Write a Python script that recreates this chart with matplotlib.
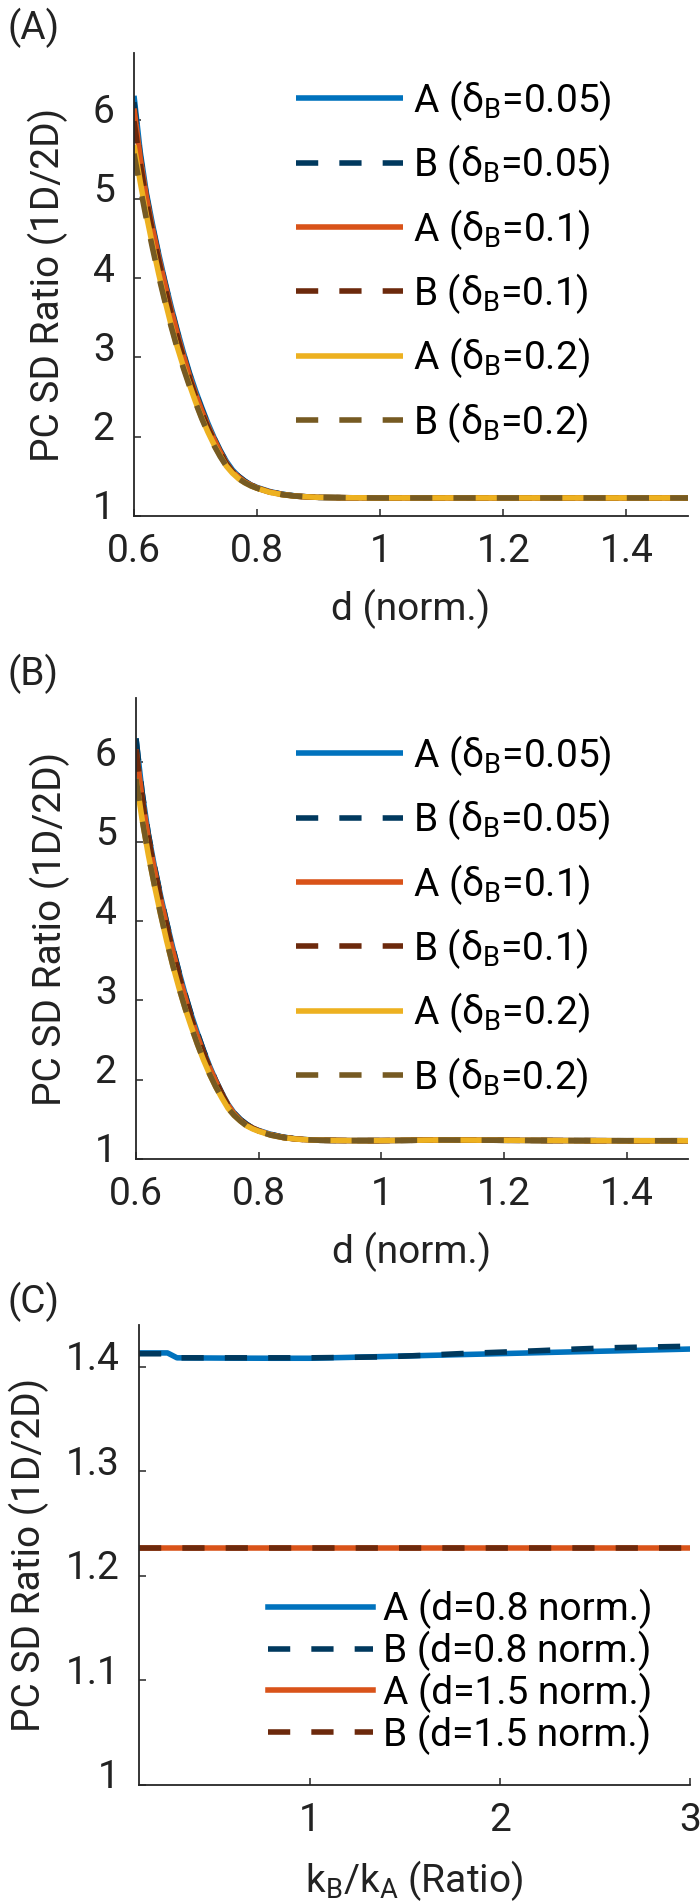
import matplotlib
matplotlib.use("Agg")
import matplotlib.pyplot as plt
import matplotlib.transforms as mtransforms

plt.rcParams['font.family'] = ['Roboto', 'DejaVu Sans']
plt.rcParams['mathtext.fontset'] = 'custom'
plt.rcParams['mathtext.rm'] = 'Roboto'

# ---- data ----
d = [0.60, 0.61, 0.62, 0.63, 0.64, 0.65, 0.66, 0.67, 0.68, 0.69, 0.70, 0.71,
     0.72, 0.73, 0.74, 0.75, 0.76, 0.77, 0.78, 0.79, 0.80, 0.82, 0.84, 0.86,
     0.88, 0.90, 0.95, 1.0, 1.1, 1.2, 1.3, 1.4, 1.5]

# panel A
a_A005 = [6.30, 5.60, 5.08, 4.68, 4.31, 3.97, 3.65, 3.35, 3.07, 2.81, 2.58, 2.37,
          2.17, 1.99, 1.83, 1.69, 1.58, 1.50, 1.44, 1.39, 1.36, 1.31, 1.275, 1.255,
          1.243, 1.235, 1.23, 1.228, 1.228, 1.228, 1.228, 1.228, 1.228]
a_B005 = [6.22, 5.55, 5.05, 4.65, 4.29, 3.95, 3.63, 3.33, 3.05, 2.79, 2.56, 2.35,
          2.15, 1.98, 1.82, 1.68, 1.57, 1.50, 1.44, 1.39, 1.36, 1.31, 1.275, 1.255,
          1.243, 1.235, 1.23, 1.228, 1.228, 1.228, 1.228, 1.228, 1.228]
a_A01 = [6.14, 5.52, 5.03, 4.63, 4.27, 3.93, 3.61, 3.31, 3.03, 2.77, 2.54, 2.33,
         2.14, 1.97, 1.81, 1.67, 1.56, 1.49, 1.43, 1.39, 1.355, 1.305, 1.272, 1.253,
         1.242, 1.235, 1.23, 1.228, 1.228, 1.228, 1.228, 1.228, 1.228]
a_B01 = [5.98, 5.45, 4.98, 4.59, 4.23, 3.89, 3.57, 3.27, 3.00, 2.74, 2.51, 2.30,
         2.12, 1.95, 1.80, 1.66, 1.56, 1.49, 1.43, 1.385, 1.352, 1.303, 1.271, 1.252,
         1.242, 1.235, 1.23, 1.228, 1.228, 1.228, 1.228, 1.228, 1.228]
a_A02 = [5.68, 5.22, 4.80, 4.42, 4.06, 3.73, 3.42, 3.14, 2.89, 2.66, 2.44, 2.24,
         2.06, 1.90, 1.76, 1.63, 1.54, 1.47, 1.42, 1.38, 1.35, 1.30, 1.27, 1.252,
         1.242, 1.235, 1.23, 1.228, 1.228, 1.228, 1.228, 1.228, 1.228]
a_B02 = [5.57, 5.15, 4.75, 4.38, 4.03, 3.71, 3.40, 3.12, 2.87, 2.64, 2.43, 2.23,
         2.05, 1.89, 1.75, 1.63, 1.54, 1.47, 1.42, 1.38, 1.35, 1.30, 1.27, 1.252,
         1.242, 1.235, 1.23, 1.228, 1.228, 1.228, 1.228, 1.228, 1.228]

# panel B
b_A005 = [6.30, 5.62, 5.10, 4.69, 4.32, 3.98, 3.66, 3.36, 3.08, 2.82, 2.59, 2.37,
          2.17, 1.99, 1.83, 1.69, 1.58, 1.50, 1.44, 1.39, 1.36, 1.31, 1.275, 1.255,
          1.243, 1.236, 1.232, 1.232, 1.24, 1.236, 1.232, 1.23, 1.23]
b_B005 = b_A005
b_A01 = [6.16, 5.54, 5.05, 4.65, 4.28, 3.94, 3.62, 3.32, 3.04, 2.78, 2.55, 2.34,
         2.15, 1.98, 1.82, 1.68, 1.57, 1.49, 1.43, 1.39, 1.355, 1.305, 1.272, 1.253,
         1.242, 1.236, 1.232, 1.232, 1.24, 1.236, 1.232, 1.23, 1.23]
b_B01 = b_A01
b_A02 = [5.79, 5.28, 4.84, 4.45, 4.09, 3.75, 3.44, 3.16, 2.90, 2.67, 2.45, 2.25,
         2.07, 1.91, 1.77, 1.64, 1.55, 1.48, 1.42, 1.38, 1.35, 1.30, 1.27, 1.252,
         1.242, 1.236, 1.232, 1.232, 1.24, 1.236, 1.232, 1.23, 1.23]
b_B02 = b_A02

# panel C
k = [0.1, 0.2, 0.25, 0.3, 0.4, 0.6, 0.8, 1.0, 1.2, 1.4, 1.6, 1.8, 2.0, 2.2,
     2.4, 2.6, 2.8, 3.0]
c_A08 = [1.4133, 1.4133, 1.4133, 1.4086, 1.4085, 1.4083, 1.4082, 1.4082, 1.4090,
         1.4099, 1.4108, 1.4117, 1.4126, 1.4135, 1.4144, 1.4152, 1.4161, 1.4170]
c_B08 = [1.4125, 1.4125, 1.4125, 1.4086, 1.4086, 1.4086, 1.4086, 1.4086, 1.4090,
         1.4096, 1.4110, 1.4127, 1.4140, 1.4154, 1.4170, 1.4183, 1.4190, 1.4197]
c_A15 = [1.2265] * len(k)
c_B15 = [1.2265] * len(k)

labels_ab = ['A (δ$_\\mathregular{B}$=0.05)', 'B (δ$_\\mathregular{B}$=0.05)',
             'A (δ$_\\mathregular{B}$=0.1)', 'B (δ$_\\mathregular{B}$=0.1)',
             'A (δ$_\\mathregular{B}$=0.2)', 'B (δ$_\\mathregular{B}$=0.2)']
labels_c = ['A (d=0.8 norm.)', 'B (d=0.8 norm.)', 'A (d=1.5 norm.)', 'B (d=1.5 norm.)']

blue, dblue = '#0072BD', '#00395E'
red, dred = '#D95319', '#6C290C'
yel, dyel = '#EDB120', '#765A22'
cols = [blue, dblue, red, dred, yel, dyel]

W, H = 700, 1904
FS = 28
LW = 4
DASH = (4, 3.8)
axcol = '#262626'

fig = plt.figure(figsize=(W / 100, H / 100), dpi=100)


def make_ax(left, right, top, bottom):
    ax = fig.add_axes([left / W, 1 - bottom / H, (right - left) / W, (bottom - top) / H])
    for s in ['top', 'right']:
        ax.spines[s].set_visible(False)
    for s in ['left', 'bottom']:
        ax.spines[s].set_color(axcol)
        ax.spines[s].set_linewidth(1.3)
    ax.tick_params(direction='in', length=5, width=1.1, colors=axcol,
                   labelsize=FS, labelcolor='#222222')
    ax.tick_params(axis='x', pad=12)
    ax.tick_params(axis='y', pad=14)
    return ax


def shift_ylabels(ax):
    off = mtransforms.ScaledTranslation(0, 11 / 100, fig.dpi_scale_trans)
    for lab in ax.get_yticklabels():
        lab.set_transform(lab.get_transform() + off)


def draw(ax, series, labels):
    for i, (y, lab) in enumerate(zip(series, labels)):
        if i % 2 == 0:
            ax.plot(d, y, color=cols[i], lw=LW, label=lab, solid_capstyle='butt')
        else:
            ax.plot(d, y, color=cols[i], lw=LW, ls=(0, DASH), label=lab, dash_capstyle='butt')


# ---- panel A ----
axA = make_ax(134, 688, 53, 516)
draw(axA, [a_A005, a_B005, a_A01, a_B01, a_A02, a_B02], labels_ab)
axA.set_xlim(0.6, 1.5)
axA.set_ylim(1, 6.84)
axA.set_xticks([0.6, 0.8, 1, 1.2, 1.4])
axA.set_xticklabels(['0.6', '0.8', '1', '1.2', '1.4'])
axA.set_yticks([1, 2, 3, 4, 5, 6])
axA.set_xlabel('d (norm.)', fontsize=FS, labelpad=14, color='#222222')
axA.set_ylabel('PC SD Ratio (1D/2D)', fontsize=FS, labelpad=18, color='#222222')
shift_ylabels(axA)
axA.legend(loc='upper left', bbox_to_anchor=(296 / W, 1 - 78 / H),
           bbox_transform=fig.transFigure, frameon=False, fontsize=FS,
           handlelength=2.75, handletextpad=0.25, labelspacing=0.5,
           borderpad=0, borderaxespad=0)
fig.text(8 / W, 1 - 28 / H, '(A)', fontsize=FS, va='center', ha='left', color='#222222')

# ---- panel B ----
axB = make_ax(136, 688, 698, 1159)
draw(axB, [b_A005, b_B005, b_A01, b_B01, b_A02, b_B02], labels_ab)
axB.set_xlim(0.6, 1.5)
axB.set_ylim(1, 6.81)
axB.set_xticks([0.6, 0.8, 1, 1.2, 1.4])
axB.set_xticklabels(['0.6', '0.8', '1', '1.2', '1.4'])
axB.set_yticks([1, 2, 3, 4, 5, 6])
axB.set_xlabel('d (norm.)', fontsize=FS, labelpad=14, color='#222222')
axB.set_ylabel('PC SD Ratio (1D/2D)', fontsize=FS, labelpad=18, color='#222222')
shift_ylabels(axB)
axB.legend(loc='upper left', bbox_to_anchor=(296 / W, 1 - 733 / H),
           bbox_transform=fig.transFigure, frameon=False, fontsize=FS,
           handlelength=2.75, handletextpad=0.25, labelspacing=0.5,
           borderpad=0, borderaxespad=0)
fig.text(8 / W, 1 - 674 / H, '(B)', fontsize=FS, va='center', ha='left', color='#222222')

# ---- panel C ----
axC = make_ax(139, 690, 1325, 1785)
axC.plot(k, c_A08, color=blue, lw=LW, label=labels_c[0])
axC.plot(k, c_B08, color=dblue, lw=LW, ls=(0, DASH), label=labels_c[1])
axC.plot(k, c_A15, color=red, lw=LW, label=labels_c[2])
axC.plot(k, c_B15, color=dred, lw=LW, ls=(0, DASH), label=labels_c[3])
axC.set_xlim(0.1, 3)
axC.set_ylim(1, 1.44)
axC.set_xticks([1, 2, 3])
axC.set_yticks([1, 1.1, 1.2, 1.3, 1.4])
axC.set_yticklabels(['1', '1.1', '1.2', '1.3', '1.4'])
axC.set_xlabel('k$_\\mathregular{B}$/k$_\\mathregular{A}$ (Ratio)', fontsize=FS,
               labelpad=14, color='#222222')
axC.set_ylabel('PC SD Ratio (1D/2D)', fontsize=FS, labelpad=12, color='#222222')
shift_ylabels(axC)
axC.legend(loc='upper left', bbox_to_anchor=(268 / W, 1 - 1589 / H),
           bbox_transform=fig.transFigure, frameon=False, fontsize=FS,
           handlelength=2.7, handletextpad=0.25, labelspacing=0.04,
           borderpad=0, borderaxespad=0)
fig.text(8 / W, 1 - 1302 / H, '(C)', fontsize=FS, va='center', ha='left', color='#222222')

fig.savefig('out.png', dpi=100)
